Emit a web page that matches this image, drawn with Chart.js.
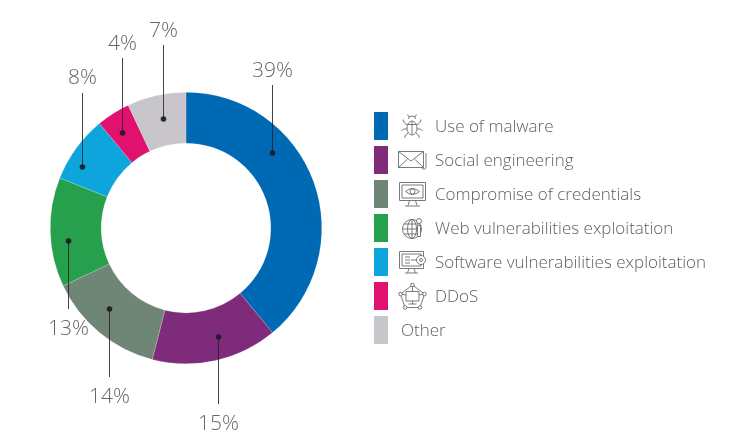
<!DOCTYPE html>
<html>
<head>
<meta charset="utf-8">
<title>Attack methods</title>
<script src="https://cdn.jsdelivr.net/npm/chart.js"></script>
<style>
    html, body { margin: 0; padding: 0; background: #fff; }
    #wrap { position: relative; width: 733px; height: 448px; overflow: hidden; font-family: "Open Sans", "Noto Sans", sans-serif; font-weight: 300; }
    #wrap canvas { position: absolute; left: 0; top: 0; }
    .swatch { position: absolute; left: 374px; width: 14px; height: 28px; }
    .name { position: absolute; font-size: 17px; line-height: 28px; color: #5f6063; white-space: nowrap; }
    #icons { position: absolute; left: 0; top: 0; }
    #icons * { fill: none; stroke: #6a6b6e; stroke-width: 0.9; }
</style>
</head>
<body>
<div id="wrap">
    <canvas id="chart" width="733" height="448"></canvas>
    <div id="legend"></div>
    <svg id="icons" width="733" height="448">
        <!-- bug -->
        <ellipse cx="412" cy="128" rx="5" ry="7"/>
        <path d="M412 121V135M407.500 124.500h9M408.500 119a3.500 3 0 0 1 7 0M409 117l-1.500-2.500M415 117l1.500-2.500M407 125l-3-2.500-1-3M417 125l3-2.500 1-3M407 129h-3.500l-2 2M417 129h3.500l2 2M408 133l-3 2.500v2.500M416 133l3 2.500v2.500"/>
        <!-- envelope -->
        <path d="M398.500 151.500h25v16h-25zM398.500 151.500l12.500 9.500 12.500-9.500M398.500 167.500l9-8.500M423.500 167.500l-9-8.500"/>
        <path d="M426 153v14a2 2 0 0 1-4 .5"/>
        <!-- monitor with eye -->
        <path d="M399.500 182.500h26v18h-26zM402 185h21v13h-21zM409.500 200.500l-1.500 5M415.500 200.500l1.500 5M405 206h15"/>
        <path d="M405.500 191.500q7-6 14 0q-7 6-14 0z"/>
        <circle cx="412.500" cy="191.500" r="2.500"/>
        <!-- globe with keyhole -->
        <circle cx="412" cy="229" r="9.500"/>
        <ellipse cx="412" cy="229" rx="4.500" ry="9.500"/>
        <path d="M412 219.500v19M402.500 229h19M404 224h16M404 234h16"/>
        <circle cx="419" cy="221" r="2.500" style="fill:#fff"/>
        <path d="M417.500 225.500h3v11h-3z" style="fill:#fff"/>
        <!-- monitor with gear -->
        <path d="M399.500 251.500h24v17h-24zM402 254h19v12h-19zM409 268.500l-1.500 4.500M414 268.500l1.500 4.500M405 273h13M405 257h5M405 260h5M405 263h5M411 260h6"/>
        <circle cx="421" cy="260" r="4.500" style="fill:#fff"/>
        <circle cx="421" cy="260" r="1.500"/>
        <!-- ddos pentagon -->
        <path d="M412.500 285l12 9-4.500 13.500h-15l-4.500-13.500z"/>
        <path d="M406 291.500h13v9.500h-13zM412.500 301v3M408.500 304h8M412.500 285v6.500M424.500 294l-5.500 1M400.500 294l5.500 1"/>
        <circle cx="412.500" cy="285" r="1.800" style="fill:#fff"/>
        <circle cx="424.500" cy="294" r="1.800" style="fill:#fff"/>
        <circle cx="420" cy="307.500" r="1.800" style="fill:#fff"/>
        <circle cx="405" cy="307.500" r="1.800" style="fill:#fff"/>
        <circle cx="400.500" cy="294" r="1.800" style="fill:#fff"/>
    </svg>
</div>
<script>
// values
const categories = ['Use of malware', 'Social engineering', 'Compromise of credentials', 'Web vulnerabilities exploitation', 'Software vulnerabilities exploitation', 'DDoS', 'Other'];
const shares = [39, 15, 14, 13, 8, 4, 7];
const colors = ['#0069b3', '#7f2b7b', '#6f8575', '#27a04e', '#0ea5dd', '#e0116f', '#c8c6cb'];

// leader lines: dot position, far end of the line, label centre
const leaders = [
    { dot: [272, 153], end: 85, labelY: 71 },
    { dot: [218, 337], end: 404, labelY: 424 },
    { dot: [109, 309], end: 377, labelY: 397 },
    { dot: [68, 241], end: 309, labelY: 329 },
    { dot: [82, 167], end: 93, labelY: 78 },
    { dot: [122, 133], end: 58, labelY: 44 },
    { dot: [163, 119], end: 45, labelY: 31 }
];

// --- Percent labels and leader lines ---
const leaderPlugin = {
    id: 'leaders',
    afterDatasetsDraw(chart) {
        const ctx = chart.ctx;
        ctx.save();
        leaders.forEach((l, i) => {
            ctx.strokeStyle = 'rgba(35, 35, 40, 0.85)';
            ctx.lineWidth = 1;
            ctx.beginPath();
            ctx.moveTo(l.dot[0] + 0.5, l.dot[1]);
            ctx.lineTo(l.dot[0] + 0.5, l.end);
            ctx.stroke();

            ctx.fillStyle = 'rgba(25, 25, 35, 0.9)';
            ctx.beginPath();
            ctx.arc(l.dot[0] + 0.5, l.dot[1], 2.8, 0, Math.PI * 2);
            ctx.fill();

            ctx.fillStyle = '#66676a';
            ctx.font = '300 21px "Open Sans", "Noto Sans", sans-serif';
            ctx.textAlign = 'center';
            ctx.textBaseline = 'middle';
            ctx.fillText(shares[i] + '%', l.dot[0] + 0.5, l.labelY);
        });
        ctx.restore();
    }
};

// --- Legend rows ---
const legend = document.getElementById('legend');
categories.forEach((name, i) => {
    const top = 112 + i * 34;
    const left = name === 'Other' ? 401 : 435;
    legend.innerHTML += `
        <div class="swatch" style="top:${top}px; background:${colors[i]};"></div>
        <div class="name" style="top:${top}px; left:${left}px;">${name}</div>`;
});

new Chart(document.getElementById('chart'), {
    type: 'doughnut',
    data: {
        labels: categories,
        datasets: [{
            data: shares,
            backgroundColor: colors,
            borderColor: 'rgba(255, 255, 255, 0.35)',
            borderWidth: 0.5
        }]
    },
    options: {
        responsive: false,
        animation: false,
        cutout: '62.5%',
        layout: { padding: { left: 50, top: 92, right: 411, bottom: 84 } },
        plugins: {
            legend: { display: false },
            tooltip: { enabled: false }
        }
    },
    plugins: [leaderPlugin]
});
</script>
</body>
</html>
